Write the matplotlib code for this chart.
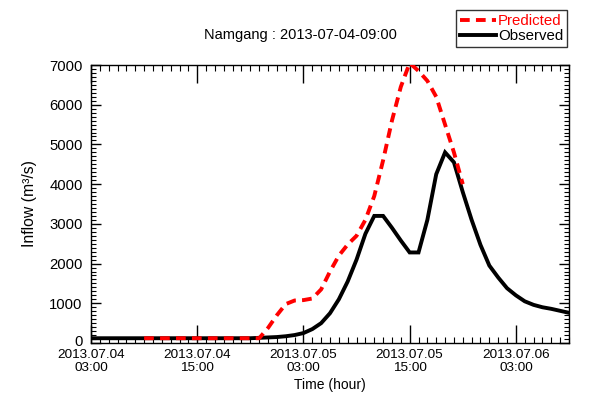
import matplotlib
matplotlib.use("Agg")
import matplotlib.pyplot as plt
from matplotlib.ticker import MultipleLocator, FixedLocator
import matplotlib.transforms as mtransforms

plt.rcParams['font.family'] = ['Liberation Sans', 'DejaVu Sans']

# hours since 2013-07-04 03:00
obs_hours = list(range(0, 55))
obs_values = [120]*19 + [130, 140, 150, 170, 200, 250, 350, 500, 750, 1100, 1550,
              2100, 2750, 3200, 3200, 2900, 2580, 2280, 2280, 3100, 4250,
              4800, 4550, 3800, 3100, 2470, 1950, 1650, 1380, 1200, 1050,
              960, 900, 860, 810, 760]

pred_hours = list(range(6, 43))
pred_values = [120]*14 + [380, 700, 980, 1070, 1080, 1120, 1350, 1800, 2200, 2480,
               2700, 3100, 3700, 4600, 5600, 6450, 7050, 6850, 6600, 6200,
               5500, 4800, 4000]

xtick_pos = [0, 12, 24, 36, 48]
xtick_labels = ["2013.07.04\n03:00", "2013.07.04\n15:00", "2013.07.05\n03:00",
                "2013.07.05\n15:00", "2013.07.06\n03:00"]

fig = plt.figure(figsize=(6, 4), dpi=100)
ax = fig.add_axes([91/600, 1-343/400, (569-91)/600, (343-65)/400])

ax.plot(obs_hours, obs_values, color='black', lw=2.8, label='Observed',
        solid_joinstyle='miter', zorder=2)
ax.plot(pred_hours, pred_values, color='#ff0000', lw=2.8, label='Predicted',
        dashes=(2.5, 1.6), dash_capstyle='butt', zorder=3)

ax.set_xlim(0, 54)
ax.set_ylim(0, 7000)
ax.xaxis.set_major_locator(FixedLocator(xtick_pos))
ax.set_xticklabels(xtick_labels, fontsize=9.7, linespacing=1.1)
ax.xaxis.set_minor_locator(MultipleLocator(1))
ax.yaxis.set_major_locator(MultipleLocator(1000))
ax.yaxis.set_minor_locator(MultipleLocator(100))
ax.tick_params(axis='x', which='major', direction='in', length=13, width=1,
               top=True, bottom=True, pad=4.5)
ax.tick_params(axis='x', which='minor', direction='in', length=4, width=0.8,
               top=True, bottom=True)
ax.tick_params(axis='y', which='major', direction='in', length=7, width=1,
               left=True, right=True, labelsize=10.7, pad=6)
ax.tick_params(axis='y', which='minor', direction='in', length=3.5, width=0.8,
               left=True, right=True)
for s in ax.spines.values():
    s.set_linewidth(1)

# nudge the "0" label up slightly so it sits above the first date label
fig.canvas.draw()
for lbl in ax.get_yticklabels():
    if lbl.get_text() == '0':
        lbl.set_transform(lbl.get_transform() +
                          mtransforms.ScaledTranslation(0, 2/72, fig.dpi_scale_trans))

ax.set_xlabel("Time (hour)", fontsize=10, labelpad=3)
ax.set_ylabel("Inflow (m³/s)", fontsize=11.3, labelpad=9)
fig.text(300/600, 1-35/400, "Namgang : 2013-07-04-09:00", fontsize=10.5,
         ha='center', va='center')

handles, labels = ax.get_legend_handles_labels()
leg = fig.legend(handles[::-1], labels[::-1], loc='upper right',
                 bbox_to_anchor=(567/600, 1-10/400), borderaxespad=0,
                 frameon=True, fancybox=False, edgecolor='black',
                 fontsize=10.8, handlelength=2.4, handletextpad=0.15,
                 borderpad=0.25, labelspacing=0.1)
leg.get_frame().set_linewidth(1)
for t in leg.get_texts():
    if t.get_text() == 'Predicted':
        t.set_color('#ff0000')

fig.savefig("out.png", dpi=100)
